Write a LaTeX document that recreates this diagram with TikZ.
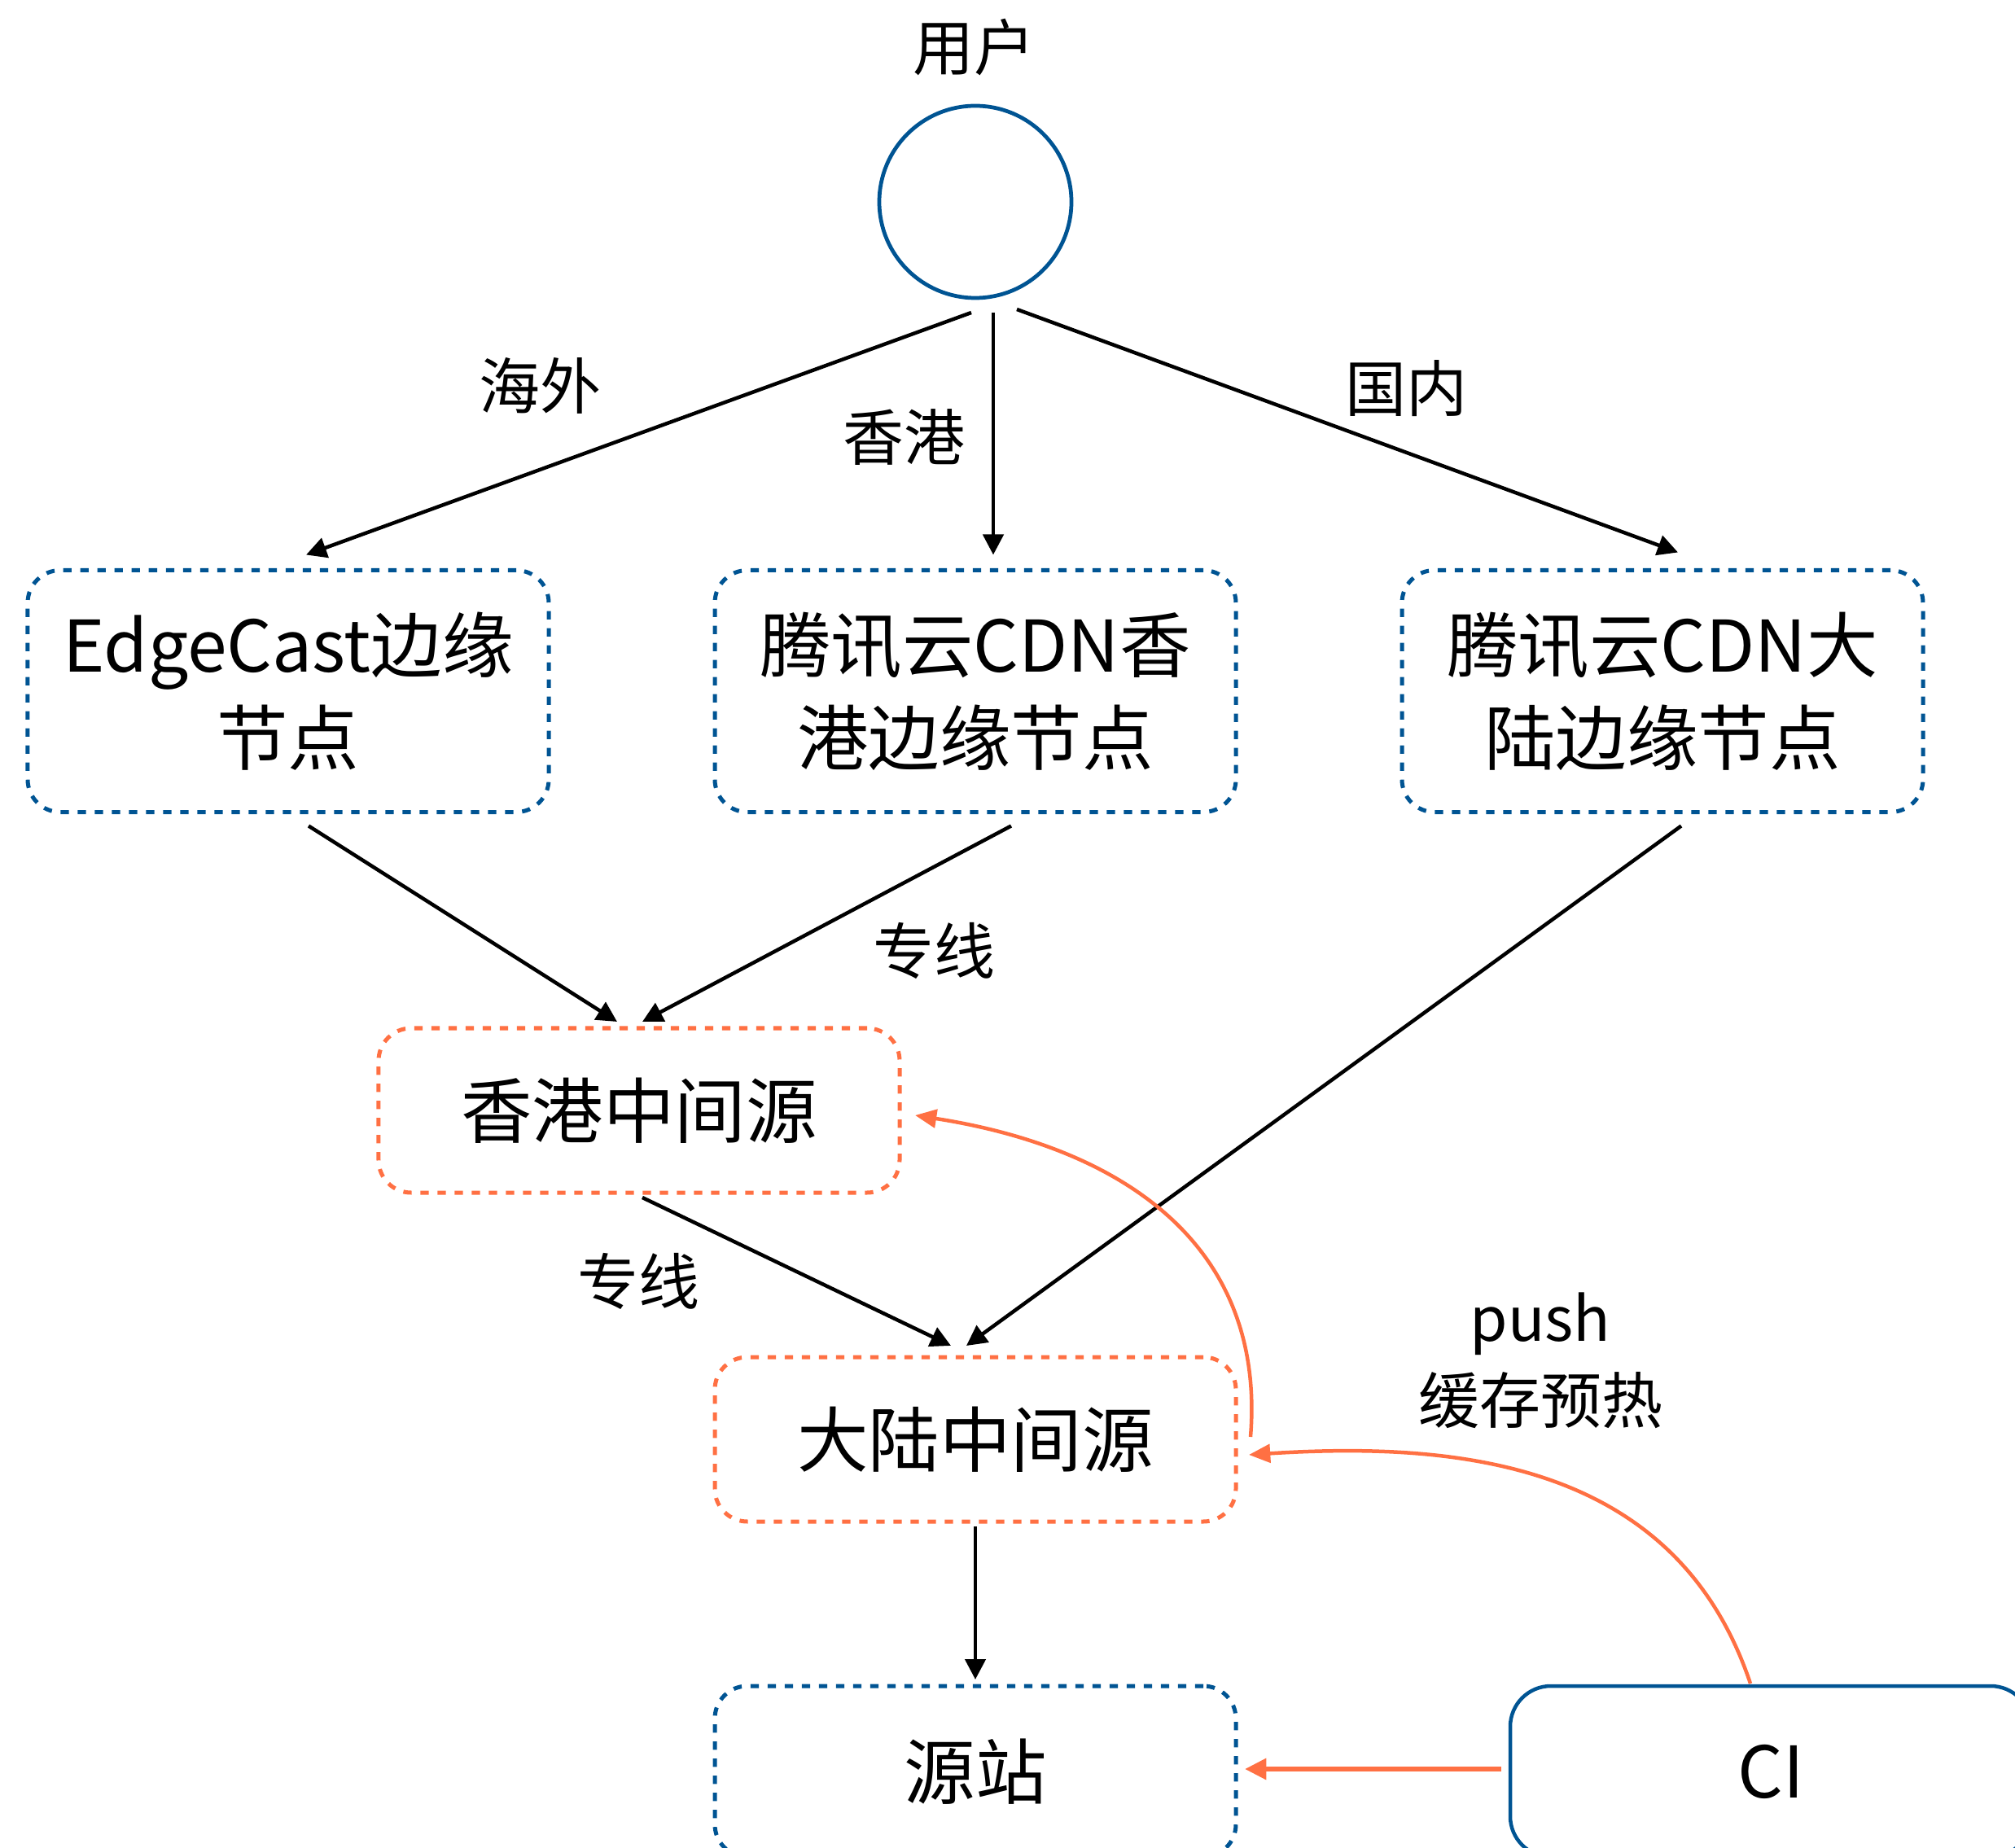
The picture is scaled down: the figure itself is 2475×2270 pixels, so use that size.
\documentclass[tikz,border=0pt]{standalone}
\usepackage{fontspec}
\setmainfont{Noto Sans CJK SC}
\usetikzlibrary{arrows.meta,calc}
\definecolor{nodeblue}{RGB}{0,84,147}
\definecolor{accent}{RGB}{255,112,67}
\newcommand\dgboxfont{\fontsize{35}{45.6}\selectfont}
\newcommand\dglblfont{\fontsize{30}{36}\selectfont}
\begin{document}
\begin{tikzpicture}[x=0.4pt,y=-0.4pt,
  basebox/.style={line width=2pt,rounded corners=16pt,minimum width=256pt,
    inner sep=0pt,outer sep=0pt,align=center,font=\dgboxfont},
  bluebox/.style={basebox,draw=nodeblue,dash pattern=on 4.1pt off 4.3pt,minimum height=118.8pt},
  orangebox/.style={basebox,draw=accent,dash pattern=on 4.1pt off 4.3pt,minimum height=80.8pt},
  cibox/.style={basebox,draw=nodeblue,line width=1.8pt,rounded corners=20pt,minimum height=84pt},
  usercircle/.style={circle,draw=nodeblue,line width=1.9pt,minimum size=94.4pt,inner sep=0pt,outer sep=0pt},
  lbl/.style={inner sep=0pt,font=\dglblfont},
  blk/.style={draw=black,line width=1.8pt,-{Triangle[length=10pt,width=10pt]}},
  orng/.style={draw=accent,line width=1.8pt,-{Triangle[length=10.5pt,width=9pt]}}
]
\useasboundingbox (0,0) rectangle (2475,2270);
\clip (0,0) rectangle (2475,2270);

% nodes
\node[usercircle] (user) at (1198,248) {};
\node[lbl] (userlbl) at (1196,58) {用户};
\node[bluebox] (edge) at (354,849) {EdgeCast边缘\\节点};
\node[bluebox] (hkcdn) at (1198,849) {腾讯云CDN香\\港边缘节点};
\node[bluebox] (mlcdn) at (2042,849) {腾讯云CDN大\\陆边缘节点};
\node[orangebox] (hkmid) at (785,1364) {香港中间源};
\node[orangebox] (mlmid) at (1198,1768) {大陆中间源};
\node[bluebox,minimum height=84pt] (origin) at (1198,2176) {源站};
\node[cibox] (ci) at (2175,2176) {CI};

% labels
\node[lbl] (lblabroad) at (663,474) {海外};
\node[lbl] (lblhk) at (1110,537) {香港};
\node[lbl] (lbldom) at (1727,477) {国内};
\node[lbl] (lblline1) at (1147,1168) {专线};
\node[lbl] (lblline2) at (784,1574) {专线};
\node[lbl] (lblpush) at (1892,1626) {push};
\node[lbl] (lblwarm) at (1892,1720) {缓存预热};

% black connectors
\draw[blk] ($(user.south)+(-5,18)$) -- ($(edge.north)+(22,-19)$);
\draw[blk] ($(user.south)+(22,18)$) -- ($(hkcdn.north)+(22,-19)$);
\draw[blk] ($(user.south)+(51,14)$) -- ($(mlcdn.north)+(19,-22)$);
\draw[blk] ($(edge.south)+(25,17)$) -- ($(hkmid.north)+(-27,-8)$);
\draw[blk] ($(hkcdn.south)+(44,17)$) -- ($(hkmid.north)+(4,-8)$);
\draw[blk] ($(hkmid.south)+(4,6)$) -- ($(mlmid.north)+(-30,-14)$);
\draw[blk] ($(mlcdn.south)+(23,17)$) -- ($(mlmid.north)+(-11,-14)$);
\draw[blk] ($(mlmid.south)+(0,6)$) -- ($(origin.north)+(0,-8)$);

% orange connectors
\draw[orng] ($(mlmid.east)+(18,-3)$) .. controls (1555,1530) and (1380,1410) .. ($(hkmid.east)+(19,6)$);
\draw[orng] ($(ci.north)+(-25,-3)$) .. controls (2060,1800) and (1800,1770) .. ($(mlmid.east)+(16,19)$);
\draw[orng,line width=2.4pt,-{Triangle[length=10.5pt,width=10pt]}] ($(ci.west)+(-11,-3)$) -- ($(origin.east)+(11,-3)$);
\end{tikzpicture}
\end{document}
